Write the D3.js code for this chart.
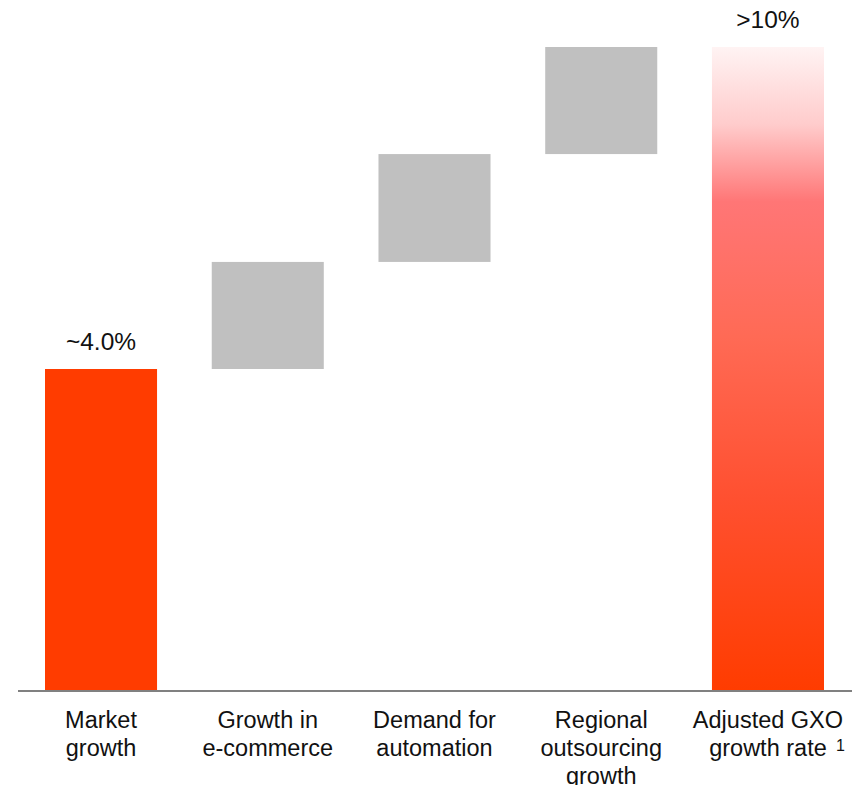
<!DOCTYPE html>
<html><head><meta charset="utf-8">
<script src="https://cdn.jsdelivr.net/npm/d3@7"></script>
<style>body{margin:0;background:#fff}svg{display:block}text{font-family:"Liberation Sans",Arial,sans-serif;fill:#111}</style>
</head><body><svg id="c" width="861" height="785"></svg>
<script>
const categories = [["Market","growth"],["Growth in","e-commerce"],["Demand for","automation"],["Regional","outsourcing","growth"],["Adjusted GXO","growth rate"]];
const kinds = ["total","step","step","step","total"];
const values = [4.0, 1.33, 1.34, 1.33, 8.0];
const valueLabels = ["~4.0%", "", "", "", ">10%"];
const footnote = "1";

const svg = d3.select("#c");
const baseY = 691, topY = 47;
const x = d3.scaleBand().domain(d3.range(categories.length)).range([45, 824]).paddingInner(0.328).paddingOuter(0);
const y = d3.scaleLinear().domain([0, 8]).range([baseY, topY]);

const defs = svg.append("defs");
const g = defs.append("linearGradient").attr("id","grad").attr("x1",0).attr("y1",0).attr("x2",0).attr("y2",1);
[[0,"#fff3f3"],[0.12,"#ffcccc"],[0.24,"#ff7676"],[0.45,"#ff6a55"],[0.7,"#ff5030"],[1,"#ff3c00"]].forEach(([o,c])=>g.append("stop").attr("offset",o).attr("stop-color",c));

let run = 0;
const bars = values.map((v,i)=>{
  let y0, y1;
  if (kinds[i]==="total") { y0 = 0; y1 = v; run = v; }
  else { y0 = run; y1 = run + v; run = y1; }
  return {i, y0, y1};
});

svg.selectAll("rect.bar").data(bars).join("rect").attr("class","bar")
  .attr("x", d=>x(d.i)).attr("width", x.bandwidth())
  .attr("y", d=>y(d.y1)).attr("height", d=>y(d.y0)-y(d.y1))
  .attr("fill", d=> d.i===0 ? "#ff3c00" : d.i===4 ? "url(#grad)" : "#c0c0c0");

svg.append("line").attr("x1",18).attr("x2",852).attr("y1",baseY).attr("y2",baseY)
  .attr("stroke","#808080").attr("stroke-width",2);

svg.selectAll("text.val").data(bars.filter(d=>valueLabels[d.i])).join("text").attr("class","val")
  .attr("x", d=>x(d.i)+x.bandwidth()/2).attr("y", d=>y(d.y1)-19)
  .attr("text-anchor","middle").attr("font-size","24.5px").text(d=>valueLabels[d.i]);

categories.forEach((lines,i)=>{
  const cx = x(i)+x.bandwidth()/2;
  const t = svg.append("text").attr("text-anchor","middle").attr("font-size","23.5px");
  lines.forEach((ln,j)=>t.append("tspan").attr("x",cx).attr("y",728+j*28).text(ln));
});
const last = categories.length-1;
svg.append("text").attr("x", x(last)+x.bandwidth()/2+68).attr("y",751).attr("font-size","16px").text(footnote);
</script></body></html>
